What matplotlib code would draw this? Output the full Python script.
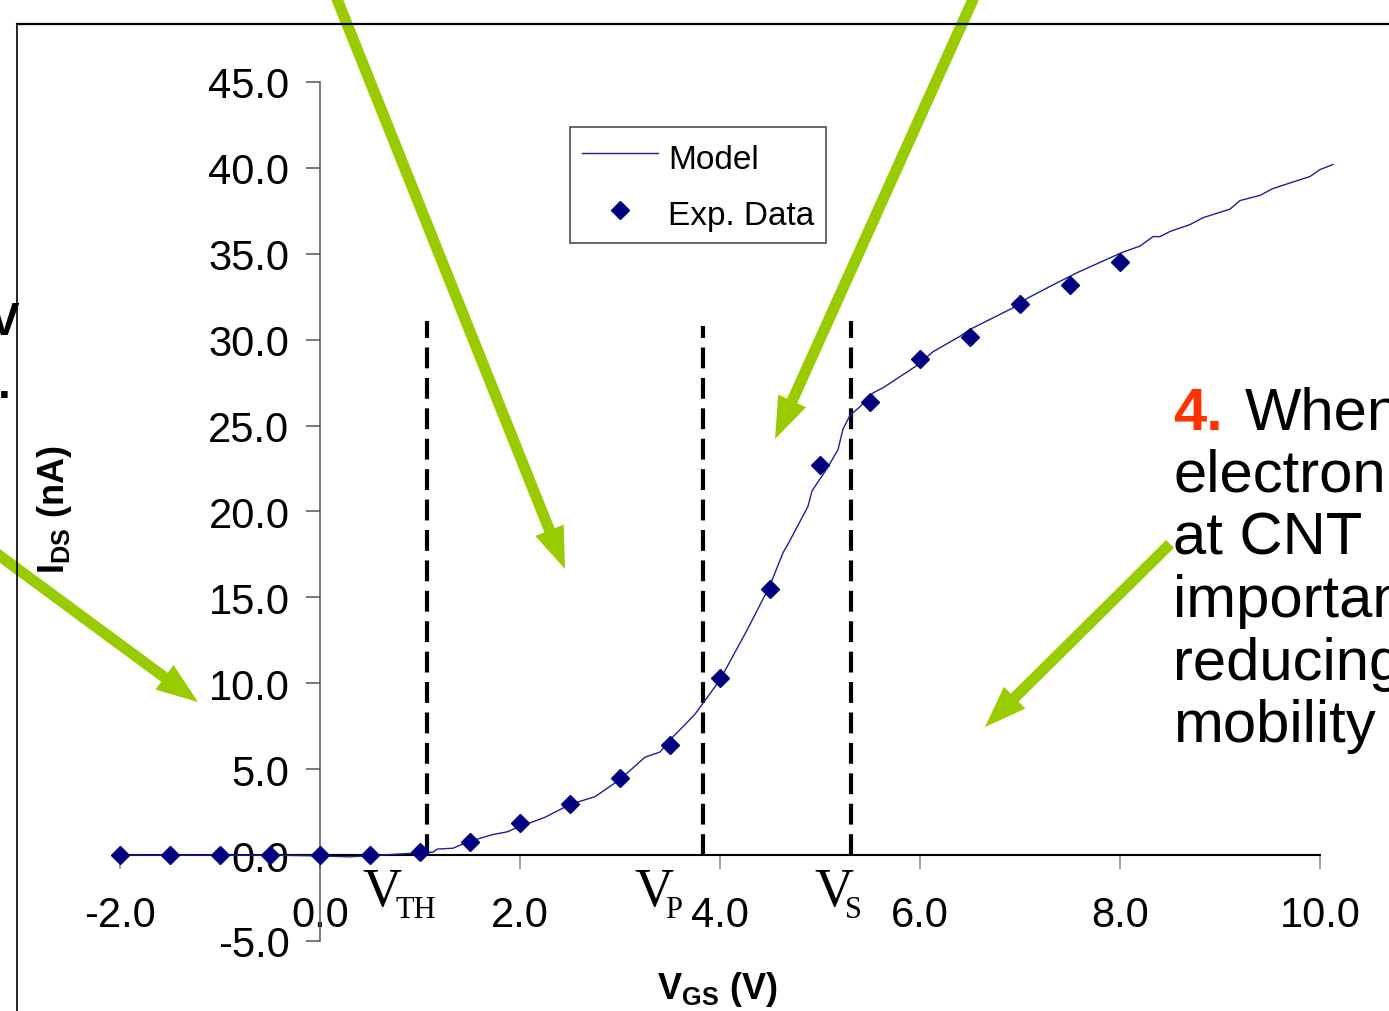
import matplotlib

matplotlib.use("Agg")
import matplotlib.pyplot as plt
import numpy as np
from matplotlib.patches import FancyArrowPatch

plt.rcParams["font.family"] = ["Liberation Sans", "DejaVu Sans"]
plt.rcParams["mathtext.fontset"] = "custom"
plt.rcParams["mathtext.rm"] = "Liberation Sans"
plt.rcParams["mathtext.bf"] = "Liberation Sans:bold"

# --- data ----------------------------------------------------------------
exp_vgs = [-2.0, -1.5, -1.0, -0.5, 0.0, 0.5, 1.0, 1.5, 2.0, 2.5, 3.0, 3.5,
           4.0, 4.5, 5.0, 5.5, 6.0, 6.5, 7.0, 7.5, 8.0]
exp_ids = [0.0, 0.0, 0.0, 0.0, 0.0, 0.0, 0.2, 0.75, 1.85, 3.0, 4.5, 6.4,
           10.3, 15.5, 22.7, 26.4, 28.9, 30.15, 32.1, 33.2, 34.5]

model_vgs = [-2.0, -1.5, -1.0, -0.5, 0.0, 0.3, 0.9, 1.13, 1.17, 1.33, 1.47,
             1.73, 1.87, 1.97, 2.25, 2.5, 2.75, 3.0, 3.25, 3.4, 3.5, 3.75,
             4.0, 4.28, 4.5, 4.63, 4.68, 4.88, 4.92, 5.07, 5.18, 5.23, 5.30,
             5.40, 5.53, 5.63, 5.97, 6.13, 6.40, 6.5, 6.98, 7.07, 7.30, 7.57,
             7.80, 8.03, 8.20, 8.33, 8.40, 8.50, 8.70, 8.83, 9.10, 9.20, 9.40,
             9.53, 9.90, 10.00, 10.13]
model_ids = [0.0, 0.0, 0.0, 0.0, -0.05, -0.1, 0.1, 0.17, 0.35, 0.4, 0.75,
             1.2, 1.35, 1.6, 2.2, 2.95, 3.4, 4.4, 5.7, 6.0, 6.7, 8.2,
             10.2, 13.2, 15.7, 17.6, 18.1, 20.3, 21.2, 22.5, 23.6, 24.8, 25.6,
             26.1, 26.9, 27.2, 28.5, 29.3, 30.2, 30.6, 32.0, 32.4, 33.1, 33.9,
             34.5, 35.1, 35.45, 36.0, 36.0, 36.3, 36.7, 37.1, 37.6, 38.1, 38.4,
             38.8, 39.5, 39.9, 40.2]

# voltage markers (V_TH, V_P, V_S) and the height of their dashed lines
vline_x = [1.07, 3.83, 5.31]
vline_top = [31.1, 30.8, 31.1]

x_ticks = np.arange(-2, 11, 2)
y_ticks = np.arange(-5, 46, 5)

W, H = 1389, 1012
GREEN = "#99CC00"
NAVY = "#000080"

fig = plt.figure(figsize=(W / 100, H / 100), dpi=100)


def fx(px):
    return px / W


def fy(py):
    return 1 - py / H


# overlay in image-pixel coordinates for border + arrows
ov = fig.add_axes([0, 0, 1, 1], zorder=5)
ov.set_xlim(0, W)
ov.set_ylim(H, 0)
ov.axis("off")
ov.patch.set_alpha(0)
ov.plot([17, W + 5], [25, 25], color="black", lw=1.6, clip_on=False)
ov.plot([17, 17], [25, H + 5], color="black", lw=1.2, clip_on=False)

ax = fig.add_axes([fx(120), 1 - 942 / H, 1200 / W, 859 / H], zorder=3)
ax.patch.set_alpha(0)
ax.set_xlim(-2, 10)
ax.set_ylim(-5, 45)
for s in ("top", "right"):
    ax.spines[s].set_visible(False)
ax.spines["left"].set_position(("data", 0))
ax.spines["bottom"].set_position(("data", 0))
ax.spines["left"].set_color("#555555")
ax.spines["left"].set_linewidth(1.1)
ax.spines["bottom"].set_color("black")
ax.spines["bottom"].set_linewidth(1.5)

ax.set_xticks(x_ticks)
ax.set_xticklabels([f"{v:.1f}" for v in x_ticks])
ax.set_yticks(y_ticks)
ax.set_yticklabels([f"{v:.1f}" for v in y_ticks])
ax.tick_params(axis="y", direction="out", length=10, width=1.1,
               color="#555555", pad=12, labelsize=30)
ax.tick_params(axis="x", direction="out", length=10, width=1.1,
               color="#888888", pad=19, labelsize=30)

ax.vlines(vline_x, 0, vline_top, colors="black", lw=3,
          linestyles=(0, (5, 2.3)), zorder=2)

model_line, = ax.plot(model_vgs, model_ids, color="#1f1f99", lw=1.0,
                      clip_on=False, zorder=3, label="Model")
exp_pts, = ax.plot(exp_vgs, exp_ids, linestyle="none", marker="D", ms=9.5,
                   color=NAVY, mec=NAVY, mew=1, clip_on=False, zorder=4,
                   label="Exp. Data")

leg = fig.legend(handles=[model_line, exp_pts], loc="upper left",
                 bbox_to_anchor=(fx(570), fy(128)), fontsize=24,
                 frameon=True, fancybox=False, edgecolor="#404040",
                 framealpha=1, borderpad=0.35, handlelength=2.3,
                 handleheight=1.3, handletextpad=0.3, labelspacing=0.6,
                 borderaxespad=0, numpoints=1)
leg.get_frame().set_linewidth(1.1)
leg.set_zorder(6)

# axis titles
fig.text(fx(717), fy(999), r"$\mathbf{V_{GS}}$ (V)", ha="center",
         va="baseline", fontsize=26, fontweight="bold")
fig.text(fx(54), fy(510), r"$\mathbf{I_{DS}}$ (nA)", ha="center",
         va="center", rotation=90, fontsize=26, fontweight="bold")

# V_TH, V_P, V_S labels
for vx, sub, sx in [(362, "TH", 395), (634, "P", 665), (814, "S", 845)]:
    fig.text(fx(vx), fy(906), "V", family="Liberation Serif", fontsize=39,
             va="baseline", ha="left")
    fig.text(fx(sx), fy(918), sub, family="Liberation Serif", fontsize=22,
             va="baseline", ha="left")

# cut-off text at the left edge
fig.text(fx(19), fy(335), "V", fontsize=33, fontweight="bold",
         ha="right", va="baseline")
fig.text(fx(11), fy(398), ".", fontsize=33, fontweight="bold",
         ha="right", va="baseline")

# explanatory note at the right edge (cut off by the figure border)
fig.text(fx(1173), fy(430), "4.", fontsize=43, fontweight="bold",
         color="#FF3300", ha="left", va="baseline")
fig.text(fx(1245), fy(430), "When", fontsize=43, ha="left", va="baseline")
note_lines = ["electron", "at CNT", "important", "reducing", "mobility"]
for i, line in enumerate(note_lines):
    fig.text(fx(1173), fy(492 + 62.6 * i), line, fontsize=43,
             ha="left", va="baseline")

# green arrows (image pixels: start -> tip)
arrows = [((331, -15), (565, 570)),
          ((980, -15), (775, 440)),
          ((-15, 546), (198, 703)),
          ((1170, 545), (985, 728))]
for start, tip in arrows:
    ov.add_patch(FancyArrowPatch(
        start, tip, arrowstyle="simple,head_length=30,head_width=22,tail_width=8",
        mutation_scale=1, color=GREEN, lw=0, shrinkA=0, shrinkB=0,
        clip_on=False))

fig.savefig("out.png", dpi=100)
